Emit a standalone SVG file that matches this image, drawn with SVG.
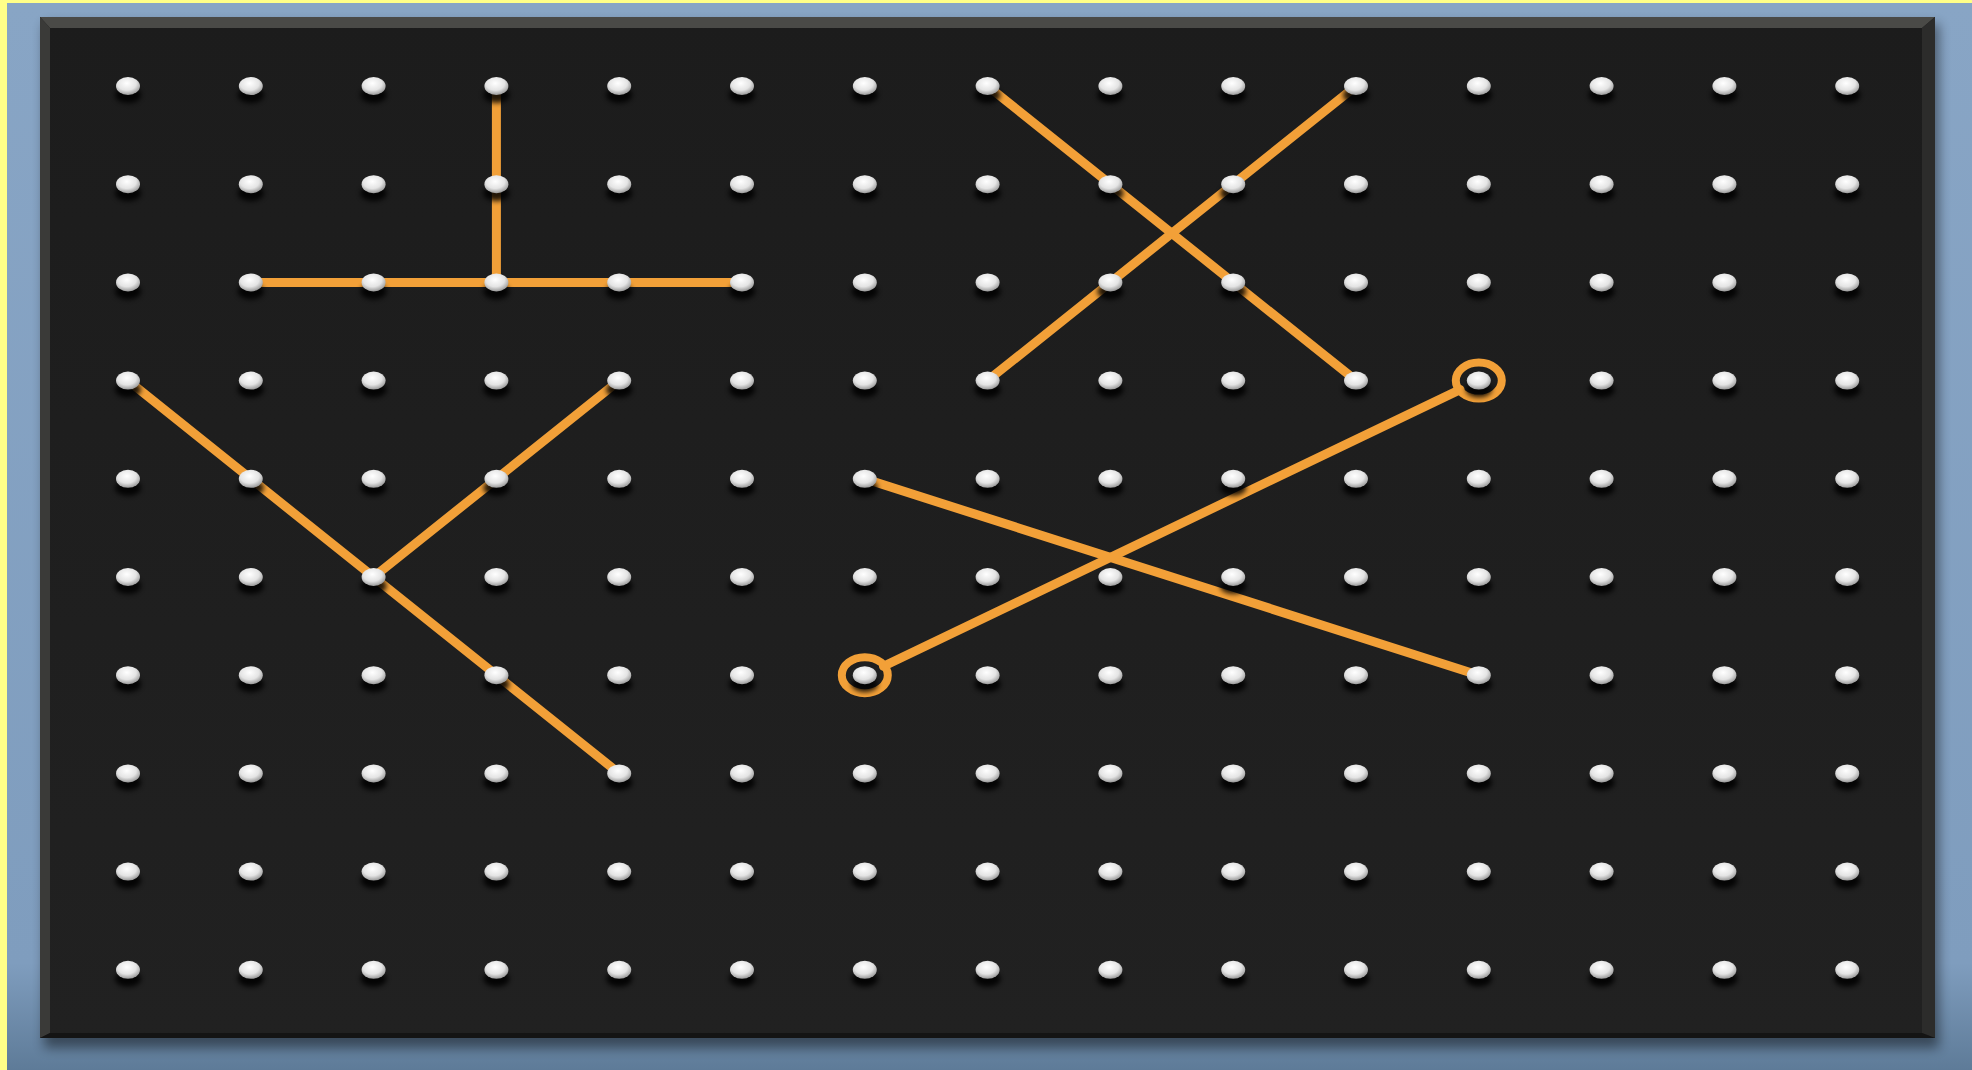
<svg xmlns="http://www.w3.org/2000/svg" xmlns:xlink="http://www.w3.org/1999/xlink" width="1972" height="1070" viewBox="0 0 1972 1070">
<defs>
<style>
.band{fill:none;stroke:#F2A038;stroke-width:9;stroke-linecap:round}
.loop{fill:none;stroke:#F2A038;stroke-width:8}
</style>
<linearGradient id="bg" x1="0" y1="0" x2="0" y2="1">
<stop offset="0" stop-color="#88A5C5"/>
<stop offset="0.9" stop-color="#7F9DBE"/>
<stop offset="1" stop-color="#5E7B98"/>
</linearGradient>
<linearGradient id="boardFill" x1="0" y1="0" x2="0" y2="1">
<stop offset="0" stop-color="#1c1c1c"/>
<stop offset="1" stop-color="#212121"/>
</linearGradient>
<radialGradient id="pegG" cx="0.45" cy="0.35" r="0.65">
<stop offset="0" stop-color="#ffffff"/>
<stop offset="0.6" stop-color="#e4e4e4"/>
<stop offset="1" stop-color="#999999"/>
</radialGradient>
<filter id="blur" x="-50%" y="-50%" width="200%" height="200%"><feGaussianBlur stdDeviation="2.5"/></filter>
<filter id="bshadow" x="-5%" y="-5%" width="110%" height="110%"><feGaussianBlur stdDeviation="6"/></filter>
<g id="peg">
<ellipse cx="0" cy="9" rx="13" ry="8" fill="#000" opacity="0.85" filter="url(#blur)"/>
<ellipse cx="0" cy="0" rx="12" ry="9" fill="url(#pegG)"/>
</g>
</defs>
<rect x="0" y="0" width="1972" height="1070" fill="#FFFF88"/>
<rect x="7" y="3" width="1965" height="1067" fill="url(#bg)"/>
<rect x="44" y="24" width="1895" height="1024" fill="#000" opacity="0.45" filter="url(#bshadow)"/>
<g id="board">
<rect x="40" y="17" width="1895" height="1021" fill="url(#boardFill)"/>
<polygon points="40,17 1935,17 1922,28 50,28" fill="#4a4a47"/>
<polygon points="40,17 50,28 50,1033 40,1038" fill="#3a3a38"/>
<polygon points="1935,17 1922,28 1922,1033 1935,1038" fill="#2c2c2b"/>
<polygon points="40,1038 50,1033 1922,1033 1935,1038" fill="#141414"/>
</g>
<g id="connectors">
<path class="band" d="M496.4,86 V282.4"/>
<path class="band" d="M250.8,282.4 H742"/>
<path class="band" d="M987.6,86 L1356,380.6"/>
<path class="band" d="M1356,86 L987.6,380.6"/>
<path class="band" d="M128,380.6 L619.2,773.4"/>
<path class="band" d="M373.6,577 L619.2,380.6"/>
<path class="band" d="M864.8,478.8 L1478.8,675.2"/>
<path class="band" d="M883.5,666.2 L1460.1,389.6"/>
<ellipse class="loop" cx="864.8" cy="675.2" rx="23" ry="18"/>
<ellipse class="loop" cx="1478.8" cy="380.6" rx="23" ry="18"/>
</g>
<g id="pegs">
<g id="row0">
<use xlink:href="#peg" x="128" y="86"/><use xlink:href="#peg" x="250.8" y="86"/><use xlink:href="#peg" x="373.6" y="86"/><use xlink:href="#peg" x="496.4" y="86"/><use xlink:href="#peg" x="619.2" y="86"/><use xlink:href="#peg" x="742" y="86"/><use xlink:href="#peg" x="864.8" y="86"/><use xlink:href="#peg" x="987.6" y="86"/><use xlink:href="#peg" x="1110.4" y="86"/><use xlink:href="#peg" x="1233.2" y="86"/><use xlink:href="#peg" x="1356" y="86"/><use xlink:href="#peg" x="1478.8" y="86"/><use xlink:href="#peg" x="1601.6" y="86"/><use xlink:href="#peg" x="1724.4" y="86"/><use xlink:href="#peg" x="1847.2" y="86"/>
</g>
<g id="row1">
<use xlink:href="#peg" x="128" y="184.2"/><use xlink:href="#peg" x="250.8" y="184.2"/><use xlink:href="#peg" x="373.6" y="184.2"/><use xlink:href="#peg" x="496.4" y="184.2"/><use xlink:href="#peg" x="619.2" y="184.2"/><use xlink:href="#peg" x="742" y="184.2"/><use xlink:href="#peg" x="864.8" y="184.2"/><use xlink:href="#peg" x="987.6" y="184.2"/><use xlink:href="#peg" x="1110.4" y="184.2"/><use xlink:href="#peg" x="1233.2" y="184.2"/><use xlink:href="#peg" x="1356" y="184.2"/><use xlink:href="#peg" x="1478.8" y="184.2"/><use xlink:href="#peg" x="1601.6" y="184.2"/><use xlink:href="#peg" x="1724.4" y="184.2"/><use xlink:href="#peg" x="1847.2" y="184.2"/>
</g>
<g id="row2">
<use xlink:href="#peg" x="128" y="282.4"/><use xlink:href="#peg" x="250.8" y="282.4"/><use xlink:href="#peg" x="373.6" y="282.4"/><use xlink:href="#peg" x="496.4" y="282.4"/><use xlink:href="#peg" x="619.2" y="282.4"/><use xlink:href="#peg" x="742" y="282.4"/><use xlink:href="#peg" x="864.8" y="282.4"/><use xlink:href="#peg" x="987.6" y="282.4"/><use xlink:href="#peg" x="1110.4" y="282.4"/><use xlink:href="#peg" x="1233.2" y="282.4"/><use xlink:href="#peg" x="1356" y="282.4"/><use xlink:href="#peg" x="1478.8" y="282.4"/><use xlink:href="#peg" x="1601.6" y="282.4"/><use xlink:href="#peg" x="1724.4" y="282.4"/><use xlink:href="#peg" x="1847.2" y="282.4"/>
</g>
<g id="row3">
<use xlink:href="#peg" x="128" y="380.6"/><use xlink:href="#peg" x="250.8" y="380.6"/><use xlink:href="#peg" x="373.6" y="380.6"/><use xlink:href="#peg" x="496.4" y="380.6"/><use xlink:href="#peg" x="619.2" y="380.6"/><use xlink:href="#peg" x="742" y="380.6"/><use xlink:href="#peg" x="864.8" y="380.6"/><use xlink:href="#peg" x="987.6" y="380.6"/><use xlink:href="#peg" x="1110.4" y="380.6"/><use xlink:href="#peg" x="1233.2" y="380.6"/><use xlink:href="#peg" x="1356" y="380.6"/><use xlink:href="#peg" x="1478.8" y="380.6"/><use xlink:href="#peg" x="1601.6" y="380.6"/><use xlink:href="#peg" x="1724.4" y="380.6"/><use xlink:href="#peg" x="1847.2" y="380.6"/>
</g>
<g id="row4">
<use xlink:href="#peg" x="128" y="478.8"/><use xlink:href="#peg" x="250.8" y="478.8"/><use xlink:href="#peg" x="373.6" y="478.8"/><use xlink:href="#peg" x="496.4" y="478.8"/><use xlink:href="#peg" x="619.2" y="478.8"/><use xlink:href="#peg" x="742" y="478.8"/><use xlink:href="#peg" x="864.8" y="478.8"/><use xlink:href="#peg" x="987.6" y="478.8"/><use xlink:href="#peg" x="1110.4" y="478.8"/><use xlink:href="#peg" x="1233.2" y="478.8"/><use xlink:href="#peg" x="1356" y="478.8"/><use xlink:href="#peg" x="1478.8" y="478.8"/><use xlink:href="#peg" x="1601.6" y="478.8"/><use xlink:href="#peg" x="1724.4" y="478.8"/><use xlink:href="#peg" x="1847.2" y="478.8"/>
</g>
<g id="row5">
<use xlink:href="#peg" x="128" y="577"/><use xlink:href="#peg" x="250.8" y="577"/><use xlink:href="#peg" x="373.6" y="577"/><use xlink:href="#peg" x="496.4" y="577"/><use xlink:href="#peg" x="619.2" y="577"/><use xlink:href="#peg" x="742" y="577"/><use xlink:href="#peg" x="864.8" y="577"/><use xlink:href="#peg" x="987.6" y="577"/><use xlink:href="#peg" x="1110.4" y="577"/><use xlink:href="#peg" x="1233.2" y="577"/><use xlink:href="#peg" x="1356" y="577"/><use xlink:href="#peg" x="1478.8" y="577"/><use xlink:href="#peg" x="1601.6" y="577"/><use xlink:href="#peg" x="1724.4" y="577"/><use xlink:href="#peg" x="1847.2" y="577"/>
</g>
<g id="row6">
<use xlink:href="#peg" x="128" y="675.2"/><use xlink:href="#peg" x="250.8" y="675.2"/><use xlink:href="#peg" x="373.6" y="675.2"/><use xlink:href="#peg" x="496.4" y="675.2"/><use xlink:href="#peg" x="619.2" y="675.2"/><use xlink:href="#peg" x="742" y="675.2"/><use xlink:href="#peg" x="864.8" y="675.2"/><use xlink:href="#peg" x="987.6" y="675.2"/><use xlink:href="#peg" x="1110.4" y="675.2"/><use xlink:href="#peg" x="1233.2" y="675.2"/><use xlink:href="#peg" x="1356" y="675.2"/><use xlink:href="#peg" x="1478.8" y="675.2"/><use xlink:href="#peg" x="1601.6" y="675.2"/><use xlink:href="#peg" x="1724.4" y="675.2"/><use xlink:href="#peg" x="1847.2" y="675.2"/>
</g>
<g id="row7">
<use xlink:href="#peg" x="128" y="773.4"/><use xlink:href="#peg" x="250.8" y="773.4"/><use xlink:href="#peg" x="373.6" y="773.4"/><use xlink:href="#peg" x="496.4" y="773.4"/><use xlink:href="#peg" x="619.2" y="773.4"/><use xlink:href="#peg" x="742" y="773.4"/><use xlink:href="#peg" x="864.8" y="773.4"/><use xlink:href="#peg" x="987.6" y="773.4"/><use xlink:href="#peg" x="1110.4" y="773.4"/><use xlink:href="#peg" x="1233.2" y="773.4"/><use xlink:href="#peg" x="1356" y="773.4"/><use xlink:href="#peg" x="1478.8" y="773.4"/><use xlink:href="#peg" x="1601.6" y="773.4"/><use xlink:href="#peg" x="1724.4" y="773.4"/><use xlink:href="#peg" x="1847.2" y="773.4"/>
</g>
<g id="row8">
<use xlink:href="#peg" x="128" y="871.6"/><use xlink:href="#peg" x="250.8" y="871.6"/><use xlink:href="#peg" x="373.6" y="871.6"/><use xlink:href="#peg" x="496.4" y="871.6"/><use xlink:href="#peg" x="619.2" y="871.6"/><use xlink:href="#peg" x="742" y="871.6"/><use xlink:href="#peg" x="864.8" y="871.6"/><use xlink:href="#peg" x="987.6" y="871.6"/><use xlink:href="#peg" x="1110.4" y="871.6"/><use xlink:href="#peg" x="1233.2" y="871.6"/><use xlink:href="#peg" x="1356" y="871.6"/><use xlink:href="#peg" x="1478.8" y="871.6"/><use xlink:href="#peg" x="1601.6" y="871.6"/><use xlink:href="#peg" x="1724.4" y="871.6"/><use xlink:href="#peg" x="1847.2" y="871.6"/>
</g>
<g id="row9">
<use xlink:href="#peg" x="128" y="969.8"/><use xlink:href="#peg" x="250.8" y="969.8"/><use xlink:href="#peg" x="373.6" y="969.8"/><use xlink:href="#peg" x="496.4" y="969.8"/><use xlink:href="#peg" x="619.2" y="969.8"/><use xlink:href="#peg" x="742" y="969.8"/><use xlink:href="#peg" x="864.8" y="969.8"/><use xlink:href="#peg" x="987.6" y="969.8"/><use xlink:href="#peg" x="1110.4" y="969.8"/><use xlink:href="#peg" x="1233.2" y="969.8"/><use xlink:href="#peg" x="1356" y="969.8"/><use xlink:href="#peg" x="1478.8" y="969.8"/><use xlink:href="#peg" x="1601.6" y="969.8"/><use xlink:href="#peg" x="1724.4" y="969.8"/><use xlink:href="#peg" x="1847.2" y="969.8"/>
</g>
</g>
</svg>
